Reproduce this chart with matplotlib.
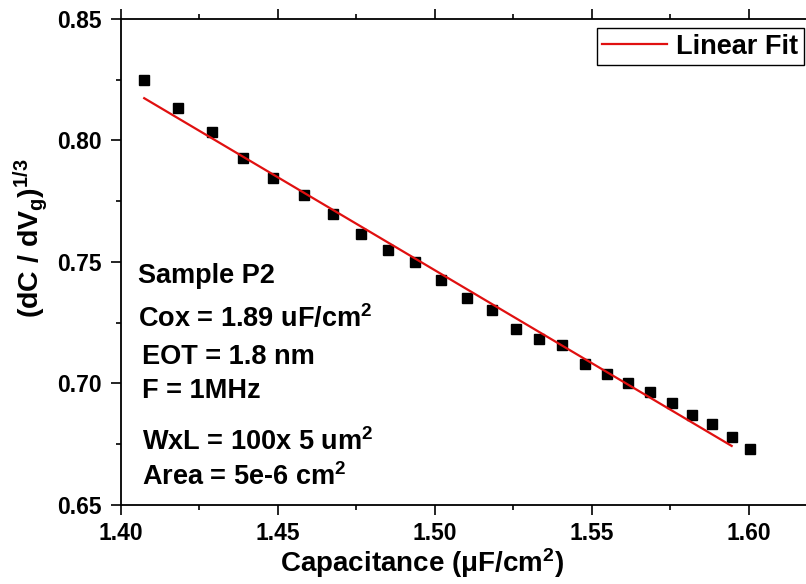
import matplotlib
matplotlib.use("Agg")
import matplotlib.pyplot as plt
from matplotlib.ticker import MultipleLocator

plt.rcParams["font.family"] = ["Liberation Sans", "DejaVu Sans"]
plt.rcParams["font.weight"] = "bold"
plt.rcParams["mathtext.fontset"] = "custom"
plt.rcParams["mathtext.rm"] = "Liberation Sans:bold"
plt.rcParams["mathtext.it"] = "Liberation Sans:bold"
plt.rcParams["mathtext.bf"] = "Liberation Sans:bold"
plt.rcParams["mathtext.default"] = "rm"

cap = [1.4074, 1.4182, 1.4289, 1.4390, 1.4485, 1.4583, 1.4676, 1.4764, 1.4851,
       1.4936, 1.5018, 1.5101, 1.5181, 1.5257, 1.5331, 1.5405, 1.5478, 1.5547,
       1.5616, 1.5685, 1.5754, 1.5818, 1.5881, 1.5945, 1.6005]
dcdv = [0.8249, 0.8135, 0.8036, 0.7929, 0.7844, 0.7776, 0.7698, 0.7615, 0.7549,
        0.7501, 0.7426, 0.7351, 0.7302, 0.7223, 0.7183, 0.7160, 0.7081, 0.7039,
        0.7001, 0.6966, 0.6921, 0.6870, 0.6833, 0.6779, 0.6732]

# linear fit end points
fit_x = [1.4074, 1.5945]
fit_y = [0.8174, 0.6743]

notes = [
    ("Sample P2", 0.0246, 0.456),
    ("Cox = 1.89 uF/cm$^2$", 0.0246, 0.366),
    ("EOT = 1.8 nm", 0.030, 0.290),
    ("F = 1MHz", 0.030, 0.221),
    ("WxL = 100x 5 um$^2$", 0.030, 0.113),
    ("Area = 5e-6 cm$^2$", 0.030, 0.041),
]

fig = plt.figure(figsize=(8.06, 5.84), dpi=100)
ax = fig.add_axes([0.1501, 0.1353, 0.857, 0.8322])

ax.plot(cap, dcdv, linestyle="none", marker="s", markersize=7.5, color="black")
ax.plot(fit_x, fit_y, color="#e01010", linewidth=1.6, label="Linear Fit")

ax.set_xlim(1.40, 1.62)
ax.set_ylim(0.65, 0.85)
ax.xaxis.set_major_locator(MultipleLocator(0.05))
ax.xaxis.set_minor_locator(MultipleLocator(0.025))
ax.yaxis.set_major_locator(MultipleLocator(0.05))
ax.yaxis.set_minor_locator(MultipleLocator(0.025))
ax.xaxis.set_major_formatter(plt.FormatStrFormatter("%.2f"))
ax.yaxis.set_major_formatter(plt.FormatStrFormatter("%.2f"))

ax.spines["right"].set_visible(False)
for s in ["left", "bottom", "top"]:
    ax.spines[s].set_linewidth(1.3)
ax.tick_params(which="both", direction="out", top=True, right=False, width=1.2)
ax.tick_params(which="major", length=7, labelsize=16.5)
ax.tick_params(which="minor", length=3.5)
ax.tick_params(axis="x", which="major", pad=5)
ax.tick_params(axis="y", which="major", pad=7)

ax.set_xlabel("Capacitance (μF/cm$^2$)", fontsize=20, fontweight="bold")
ax.xaxis.set_label_coords(0.436, -0.084)
ax.set_ylabel("(dC / dV$_g$)$^{1/3}$", fontsize=20.5, fontweight="bold")
ax.yaxis.set_label_coords(-0.103, 0.549)

for txt, x, y in notes:
    ax.text(x, y, txt, transform=ax.transAxes, fontsize=19.5, fontweight="bold",
            ha="left", va="baseline")

leg = ax.legend(loc="upper right", bbox_to_anchor=(804 / 806, 1 - 28.3 / 584),
                bbox_transform=fig.transFigure, borderaxespad=0, fancybox=False,
                framealpha=1, edgecolor="black", fontsize=19.5, handlelength=2.4,
                handletextpad=0.35, borderpad=0.2)
leg.get_frame().set_linewidth(1.0)

fig.savefig("out.png", dpi=100)
